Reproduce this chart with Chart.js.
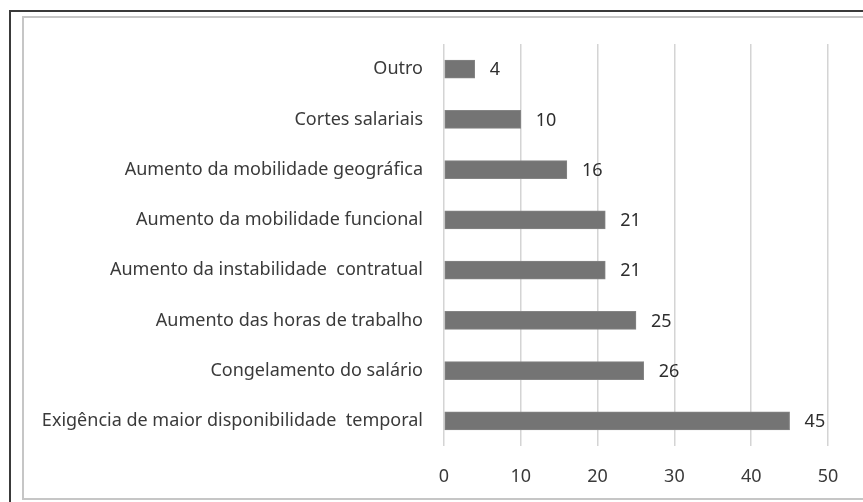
<!DOCTYPE html>
<html>
<head>
<meta charset="utf-8">
<script src="https://cdn.jsdelivr.net/npm/chart.js@4.4.1/dist/chart.umd.min.js"></script>
<style>
    html, body { margin: 0; padding: 0; background: #fff; }
    #wrap { position: relative; width: 863px; height: 502px; overflow: hidden; }
    #outer { position: absolute; left: 9px; top: 10px; width: 900px; height: 600px;
             border-left: 2px solid #3a3a3a; border-top: 2px solid #3a3a3a; }
    #inner { position: absolute; left: 22px; top: 16px; width: 900px; height: 480px;
             border: 2px solid #c6c6c6; }
    #chart { position: absolute; left: 0; top: 0; }
</style>
</head>
<body>
<div id="wrap">
    <div id="outer"></div>
    <div id="inner"></div>
    <canvas id="chart" width="863" height="502"></canvas>
</div>
<script>
const categories = [
    'Outro',
    'Cortes salariais',
    'Aumento da mobilidade geográfica',
    'Aumento da mobilidade funcional',
    'Aumento da instabilidade  contratual',
    'Aumento das horas de trabalho',
    'Congelamento do salário',
    'Exigência de maior disponibilidade  temporal',
]
const values = [4, 10, 16, 21, 21, 25, 26, 45]
const xTicks = [0, 10, 20, 30, 40, 50]

const textColor = '#3a3a3a'
const font = { family: 'Noto Sans', size: 18 }

// value labels to the right of each bar
const barLabels = {
    id: 'barLabels',
    afterDatasetsDraw(chart) {
        const ctx = chart.ctx
        const meta = chart.getDatasetMeta(0)
        ctx.save()
        ctx.fillStyle = '#2e2e2e'
        ctx.font = font.size + 'px ' + font.family
        ctx.textAlign = 'left'
        ctx.textBaseline = 'middle'
        meta.data.forEach((bar, i) => {
            ctx.fillText(values[i], bar.x + 15, bar.y + 1)
        })
        ctx.restore()
    }
}

new Chart(document.getElementById('chart'), {
    type: 'bar',
    data: {
        labels: categories,
        datasets: [{
            data: values,
            backgroundColor: '#747474',
            borderColor: '#858585',
            borderWidth: 1,
            borderSkipped: false,
            barThickness: 18,
        }]
    },
    options: {
        indexAxis: 'y',
        responsive: false,
        animation: false,
        layout: { padding: { left: 0, right: 35, top: 44, bottom: 0 } },
        plugins: {
            legend: { display: false },
            tooltip: { enabled: false },
        },
        scales: {
            x: {
                min: 0,
                max: 50,
                afterBuildTicks: s => { s.ticks = xTicks.map(v => ({ value: v })) },
                afterFit: s => { s.height = 56 },
                grid: { color: '#d4d4d4', lineWidth: 1.5, drawTicks: false },
                border: { display: false },
                ticks: { color: textColor, font: font, padding: 20 },
            },
            y: {
                afterFit: s => { s.width = 444 },
                grid: { display: false },
                border: { display: false },
                ticks: { color: textColor, font: font, padding: 13 },
            }
        }
    },
    plugins: [barLabels]
});
</script>
</body>
</html>
